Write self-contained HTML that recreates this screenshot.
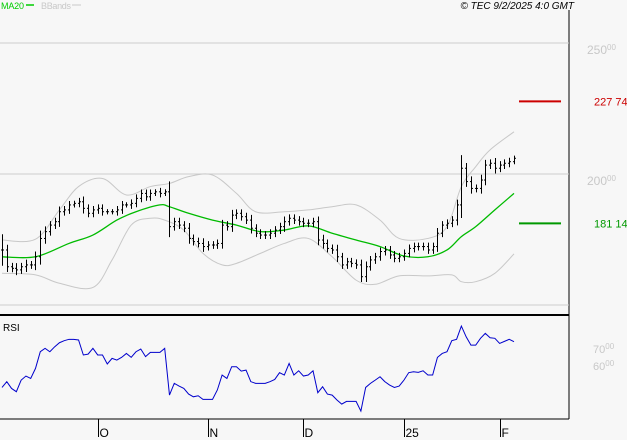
<!DOCTYPE html>
<html><head><meta charset="utf-8"><style>
body{margin:0;background:#f7f7f7;}
svg{display:block;font-family:"Liberation Sans",sans-serif;}
</style></head><body>
<svg id="chart" width="627" height="440" viewBox="0 0 627 440" xmlns="http://www.w3.org/2000/svg">
<rect x="0" y="0" width="627" height="440" fill="#f7f7f7"/>
<text x="1" y="9" font-size="9" fill="#00cc00" textLength="23">MA20</text>
<line x1="26" y1="5" x2="34" y2="5" stroke="#00cc00" stroke-width="1.5"/>
<text x="41" y="9" font-size="9" fill="#c8c8c8" textLength="30">BBands</text>
<line x1="72" y1="5" x2="81" y2="5" stroke="#c8c8c8"/>
<text x="574" y="9" font-size="10" font-style="italic" text-anchor="end" fill="#000">© TEC 9/2/2025 4:0 GMT</text>
<line x1="569" y1="10" x2="569" y2="419" stroke="#000"/>
<line x1="0" y1="315" x2="569" y2="315" stroke="#000" stroke-width="2"/>
<line x1="0" y1="305" x2="569" y2="305" stroke="#ccc"/>
<line x1="0" y1="419" x2="569" y2="419" stroke="#000"/>
<text x="3" y="331" font-size="10" fill="#000">RSI</text>
<g id="grid"></g><g id="bands"></g><g id="bars"></g><g id="rsi"></g><g id="axis"></g>
</svg>
<script>
const closes=[171.0,164.6,164.0,163.4,164.6,165.3,165.3,168.4,175.4,178.0,180.5,181.8,185.6,186.3,188.2,188.8,189.4,186.9,185.0,186.3,186.9,185.6,185.6,185.6,186.3,188.2,188.2,188.8,190.7,192.6,191.3,192.6,193.2,192.6,193.2,179.9,181.8,180.5,179.3,175.4,174.2,173.5,172.3,172.9,172.9,173.5,180.5,179.9,184.3,185.0,183.7,182.4,179.3,177.4,176.7,176.7,177.4,178.6,179.9,181.8,183.1,182.4,181.8,181.2,181.2,181.8,174.8,173.5,171.6,171.0,168.4,165.3,166.5,165.9,165.3,160.8,164.6,167.2,168.4,170.4,171.0,169.1,167.8,168.4,169.7,171.6,172.3,172.3,172.3,171.0,172.3,177.4,180.5,181.2,182.4,188.2,202.2,197.1,194.5,194.5,197.7,203.4,204.1,202.2,203.4,204.1,204.7,206.0];
const wicks=[6,2,1.5,2,1.5,2,1.5,2,3,2,1.5,1.5,2,1.5,1.5,1,1.5,2,1.5,1.5,1.5,1.5,1,1,1.5,1.5,1,1.5,1.5,1.5,1.5,1.5,1,1.5,1,4,1.5,1.5,1.5,2,1.5,1.5,2,1.5,1.5,1.5,2,1.5,2,1.5,1.5,1.5,2,1.5,1.5,1.5,1.5,1.5,1.5,2,1.5,1.5,1.5,1.5,1.5,1.5,2,2,1.5,1.5,2,1.5,1.5,1.5,1.5,2,2,1.5,1.5,1.5,1.5,1.5,1.5,1.5,1.5,1.5,1.5,1.5,1.5,1.5,1.5,2,1.5,1.5,1.5,2,5,2,2,1.5,2,2,1.5,2,1.5,1.5,1.5,1];
const maIdx=[0,7,14,19,24,28,33,35,39,44,49,54,59,64,69,74,79,84,89,93,96,99,103,107];
const maVals=[168.4,168.4,173.5,176.7,182.4,185.6,188.2,187.5,185.0,182.4,180.5,178.0,178.6,180.2,177.4,174.8,172.3,168.7,168.4,171.0,176.1,179.9,186.3,192.6];
const upIdx=[0,7,12,16,21,26,31,35,39,44,49,53,59,64,69,74,79,83,89,93,96,99,102,107];
const upVals=[174.8,175.1,186.3,195.2,198.3,192.0,195.2,196.4,199.0,199.6,192.6,185.6,185.6,186.3,187.5,188.2,182.4,175.4,175.4,179.9,195.2,202.8,209.2,216.1];
const loIdx=[0,7,12,19,23,27,31,34,38,42,46,49,54,59,64,69,74,78,83,89,94,96,99,103,107];
const loVals=[162.1,161.5,158.3,156.7,167.2,180.5,183.1,182.4,178.6,169.7,165.3,165.9,169.7,173.5,175.4,168.4,159.5,157.9,161.1,161.1,161.5,158.9,158.9,162.1,169.5];
const rsiVals=[46.8,50.2,46.2,44.3,51.1,53.5,52.1,58.0,67.8,69.8,67.8,70.7,73.1,74.3,75.1,75.1,74.7,65.9,66.4,69.8,65.9,65.9,60.6,63.9,62.9,64.5,66.8,64.5,67.8,69.4,64.9,67.4,67.4,67.4,69.8,42.3,49.2,47.6,46.2,42.9,41.3,41.9,39.8,39.8,39.8,45.3,54.1,52.1,59.0,59.0,56.4,57.0,50.2,49.2,49.2,49.2,50.2,51.5,55.5,54.1,60.9,54.1,56.6,53.5,54.1,56.6,43.7,47.2,42.9,42.3,39.4,37.0,38.6,38.6,38.6,32.9,46.8,49.2,51.1,53.1,50.2,48.2,46.8,47.6,51.1,55.5,56.0,55.7,56.6,54.1,54.1,64.5,66.8,67.8,74.3,75.1,82.9,76.6,71.7,71.7,75.7,78.6,76.0,75.7,72.7,73.9,75.1,73.7];
const priceTicks=[250,200];
const rsiTicks=[70,60];
const monthIdx=[20,43,63,84,104];
const monthLabels=["O","N","D","25","F"];
const markers=[{v:227.74,label:"227 74",color:"#cc0000"},{v:181.14,label:"181 14",color:"#009900"}];

const NS="http://www.w3.org/2000/svg";
const n=closes.length;
const xOf=i=>2+i*(512/(n-1));
const yP=p=>174-(p-200)*2.62;
const yR=r=>348-(r-70)*1.7;
function mk(tag,attrs,parent){const e=document.createElementNS(NS,tag);for(const k in attrs)e.setAttribute(k,attrs[k]);document.getElementById(parent).appendChild(e);return e;}

priceTicks.forEach((t,k)=>{
  const l=mk('line',{x1:0,x2:569,y1:yP(t),y2:yP(t),stroke:'#cccccc'},'grid');
  
  
  const tx=mk('text',{x:587,y:yP(t)+11,'font-size':12,fill:'#c8c8c8'},'grid');
  
  
  tx.innerHTML=t+'<tspan font-size="8" dy="-4">00</tspan>';
});
rsiTicks.forEach(t=>{
  const tx=mk('text',{x:593,y:yR(t)+5,'font-size':11,fill:'#c8c8c8'},'grid');
  
  
  tx.innerHTML=t+'<tspan font-size="8" dy="-4">00</tspan>';
});
markers.forEach(m=>{
  const l=mk('line',{x1:519,x2:561,y1:yP(m.v),y2:yP(m.v),stroke:m.color,'stroke-width':2},'grid');
  
  
  const t=mk('text',{x:594,y:yP(m.v)+4,'font-size':11,fill:m.color},'grid');
  
  
  t.textContent=m.label;
});
function smooth(pts){
  let d='M'+pts[0][0]+','+pts[0][1];
  for(let i=0;i<pts.length-1;i++){
    const p0=pts[Math.max(i-1,0)],p1=pts[i],p2=pts[i+1],p3=pts[Math.min(i+2,pts.length-1)];
    const c1=[p1[0]+(p2[0]-p0[0])/6,p1[1]+(p2[1]-p0[1])/6];
    const c2=[p2[0]-(p3[0]-p1[0])/6,p2[1]-(p3[1]-p1[1])/6];
    d+=' C'+c1[0]+','+c1[1]+' '+c2[0]+','+c2[1]+' '+p2[0]+','+p2[1];
  }
  return d;
}
function curve(idx,vals,color,name,w){
  const pts=idx.map((i,k)=>[xOf(i),yP(vals[k])]);
  const p=mk('path',{d:smooth(pts),fill:'none',stroke:color,'stroke-width':w},'bands');
  
  
}
curve(upIdx,upVals,'#c8c8c8','bband-upper',1);
curve(loIdx,loVals,'#c8c8c8','bband-lower',1);
curve(maIdx,maVals,'#00bb00','ma20-line',1.3);
closes.forEach((c,i)=>{
  const o=i>0?closes[i-1]:c;
  const hi=Math.max(o,c)+wicks[i], lo=Math.min(o,c)-wicks[i];
  const x=Math.round(xOf(i))+0.5;
  const g=mk('g',{stroke:'#000','stroke-width':1},'bars');
  
  
  const a=document.createElementNS(NS,'line');a.setAttribute('x1',x);a.setAttribute('x2',x);a.setAttribute('y1',yP(hi));a.setAttribute('y2',yP(lo));g.appendChild(a);
  const b=document.createElementNS(NS,'line');b.setAttribute('x1',x-1.5);b.setAttribute('x2',x);b.setAttribute('y1',yP(o));b.setAttribute('y2',yP(o));g.appendChild(b);
  const d=document.createElementNS(NS,'line');d.setAttribute('x1',x);d.setAttribute('x2',x+1.5);d.setAttribute('y1',yP(c));d.setAttribute('y2',yP(c));g.appendChild(d);
});
const rp=mk('polyline',{points:rsiVals.map((r,i)=>xOf(i)+','+yR(r)).join(' '),fill:'none',stroke:'#0000cc','stroke-width':1},'rsi');


monthIdx.forEach((i,k)=>{
  const x=Math.round(xOf(i))+0.5;
  const l=mk('line',{x1:x,x2:x,y1:419,y2:437,stroke:'#000'},'axis');
  
  
  const t=mk('text',{x:x+1,y:437,'font-size':12,fill:'#000'},'axis');
  
  
  t.textContent=monthLabels[k];
});
</script>
</body></html>
